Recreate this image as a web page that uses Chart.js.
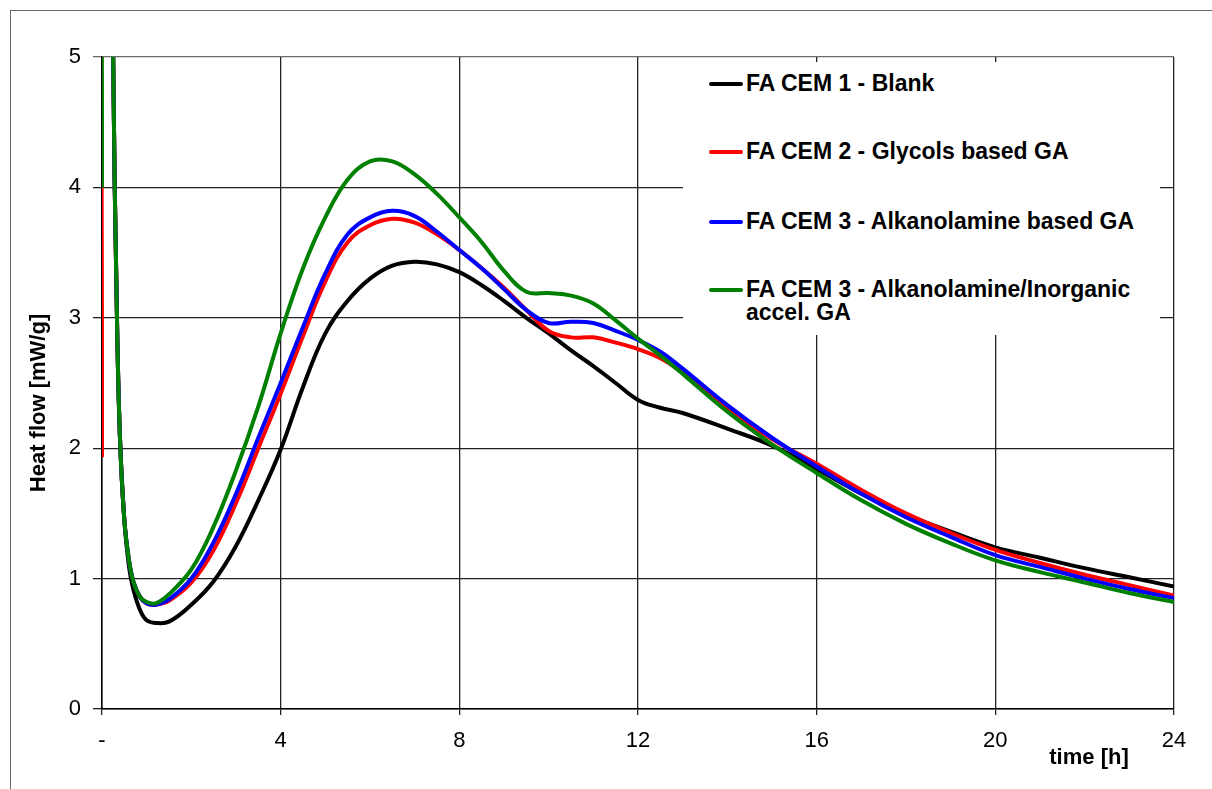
<!DOCTYPE html>
<html>
<head>
<meta charset="utf-8">
<script src="https://cdn.jsdelivr.net/npm/chart.js@4.4.1/dist/chart.umd.min.js"></script>
<style>
  html, body { margin: 0; padding: 0; background: #fff; }
  #wrap { position: relative; width: 1212px; height: 789px; overflow: hidden; }
  #frame { position: absolute; left: 10px; top: 10px; width: 1300px; height: 900px;
           border-left: 1px solid #6a6a6a; border-top: 1px solid #6a6a6a; }
  #legend { position: absolute; left: 683px; top: 62px; width: 477px; height: 273px;
            background: #fff; font-family: "Liberation Sans", Arial, sans-serif;
            font-weight: bold; font-size: 23px; color: #000; }
  .lg-item { position: absolute; left: 0; }
  .lg-line { position: absolute; left: 26px; width: 34px; height: 4px; border-radius: 2px; }
  .lg-text { position: absolute; left: 63px; line-height: 23px; white-space: nowrap; }
</style>
</head>
<body>
<div id="wrap">
  <div id="frame"></div>
  <canvas id="ch-heat" width="1212" height="789"></canvas>
  <div id="legend"></div>
</div>
<script>
// time axis (h)
const hours = [0, 0.02, 0.2, 0.25, 0.33, 0.4, 0.5, 0.6, 0.7, 0.85, 1.0, 1.2, 1.5, 2, 2.5, 3, 3.5, 4, 4.5, 5, 5.5,
  6, 6.5, 7, 7.5, 8, 8.5, 9, 9.5, 10, 10.5, 11, 11.5, 12, 12.5, 13, 14, 15, 16, 17, 18, 19, 20, 21, 22, 23, 24];

// heat flow, mW/g
const blank = [7, 8, 8, 5.0, 3.1, 2.1, 1.45, 1.1, 0.92, 0.76, 0.68, 0.66, 0.67, 0.8, 0.98, 1.25, 1.6, 1.99, 2.47, 2.88, 3.13,
  3.3, 3.4, 3.43, 3.41, 3.35, 3.25, 3.13, 3.0, 2.88, 2.75, 2.63, 2.5, 2.37, 2.31, 2.27, 2.15, 2.02, 1.84, 1.65, 1.49, 1.36, 1.24, 1.16, 1.08, 1.01, 0.94];
const glycols = [1.93, 8, 8, 5.0, 3.1, 2.1, 1.45, 1.15, 0.98, 0.86, 0.81, 0.80, 0.83, 0.97, 1.22, 1.58, 2.0, 2.42, 2.86, 3.28, 3.58,
  3.71, 3.76, 3.73, 3.64, 3.52, 3.38, 3.23, 3.06, 2.9, 2.85, 2.85, 2.81, 2.76, 2.69, 2.58, 2.31, 2.07, 1.88, 1.68, 1.5, 1.35, 1.22, 1.12, 1.03, 0.95, 0.87];
const alkanolamine = [6, 8, 8, 5.0, 3.1, 2.1, 1.45, 1.15, 0.98, 0.86, 0.81, 0.80, 0.84, 1.0, 1.28, 1.65, 2.08, 2.5, 2.93, 3.34, 3.64,
  3.77, 3.82, 3.78, 3.66, 3.52, 3.38, 3.22, 3.06, 2.96, 2.97, 2.96, 2.9, 2.83, 2.74, 2.61, 2.33, 2.08, 1.86, 1.65, 1.47, 1.32, 1.18, 1.09, 1.0, 0.92, 0.85];
const alkInorganic = [4.0, 8, 8, 5.0, 3.1, 2.1, 1.45, 1.15, 0.98, 0.86, 0.82, 0.81, 0.88, 1.07, 1.4, 1.83, 2.32, 2.88, 3.38, 3.77, 4.06,
  4.2, 4.2, 4.1, 3.95, 3.77, 3.58, 3.36, 3.2, 3.19, 3.17, 3.11, 2.98, 2.84, 2.71, 2.57, 2.28, 2.03, 1.81, 1.6, 1.42, 1.27, 1.14, 1.05, 0.97, 0.89, 0.82];

const seriesNames = [
  'FA CEM 1 - Blank',
  'FA CEM 2 - Glycols based GA',
  'FA CEM 3 - Alkanolamine based GA',
  'FA CEM 3 - Alkanolamine/Inorganic\naccel. GA'
];
const seriesColors = ['#000000', '#ff0000', '#0000ff', '#008000'];
const xTicks = [0, 4, 8, 12, 16, 20, 24];
const yTicks = [0, 1, 2, 3, 4, 5];

const FONT = '"Liberation Sans", Arial, sans-serif';
const toPts = vals => hours.map((h, i) => ({ x: h, y: vals[i] }));

// Axis titles drawn on the canvas
const axisTitles = {
  id: 'axisTitles',
  afterDraw(chart) {
    const ctx = chart.ctx;
    ctx.save();
    ctx.fillStyle = '#000';
    ctx.font = 'bold 22px ' + FONT;
    ctx.textAlign = 'center';
    ctx.textBaseline = 'middle';
    ctx.fillText('time [h]', 1089, 758);
    ctx.translate(39, 403);
    ctx.rotate(-Math.PI / 2);
    ctx.fillText('Heat flow [mW/g]', 0, 0);
    ctx.restore();
  }
};

const ctx = document.getElementById('ch-heat').getContext('2d');
new Chart(ctx, {
  type: 'line',
  data: {
    datasets: [blank, glycols, alkanolamine, alkInorganic].map((vals, i) => ({
      label: seriesNames[i],
      data: toPts(vals),
      borderColor: seriesColors[i],
      backgroundColor: seriesColors[i],
      borderWidth: 4,
      pointRadius: 0,
      tension: 0.4,
      fill: false,
      clip: 0,
      order: 4 - i
    }))
  },
  options: {
    responsive: false,
    animation: false,
    events: [],
    layout: { padding: { left: 0, top: 57, right: 38, bottom: 0 } },
    plugins: { legend: { display: false }, tooltip: { enabled: false } },
    scales: {
      x: {
        type: 'linear',
        min: 0, max: 24,
        afterFit: s => { s.height = 80; },
        afterBuildTicks: s => { s.ticks = xTicks.map(v => ({ value: v })); },
        border: { display: true, color: '#000', width: 1.5 },
        grid: { color: '#222', lineWidth: 1.3, tickLength: 6 },
        ticks: {
          color: '#000', padding: 13, maxRotation: 0,
          font: { family: FONT, size: 22 },
          callback: v => v === 0 ? '-' : v
        }
      },
      y: {
        min: 0, max: 5,
        afterFit: s => { s.width = 102; },
        afterBuildTicks: s => { s.ticks = yTicks.map(v => ({ value: v })); },
        border: { display: true, color: '#000', width: 1.5 },
        grid: { color: c => c.tick && c.tick.value === 5 ? '#6a6a6a' : '#222', lineWidth: 1.3, tickLength: 9 },
        ticks: {
          color: '#000', padding: 12,
          font: { family: FONT, size: 22 }
        }
      }
    }
  },
  plugins: [axisTitles]
});

// Legend box (white, covers the grid)
const legendEl = document.getElementById('legend');
const legendTops = [22, 90, 160, 228];
seriesNames.forEach((name, i) => {
  const item = document.createElement('div');
  item.className = 'lg-item';
  item.style.top = legendTops[i] + 'px';
  const line = document.createElement('div');
  line.className = 'lg-line';
  line.style.background = seriesColors[i];
  line.style.top = '-2px';
  const text = document.createElement('div');
  text.className = 'lg-text';
  text.style.top = '-12px';
  text.innerHTML = name.split('\n').join('<br>');
  item.appendChild(line);
  item.appendChild(text);
  legendEl.appendChild(item);
});
</script>
</body>
</html>
